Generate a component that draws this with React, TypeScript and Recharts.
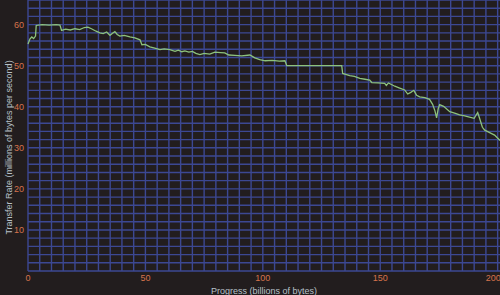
import { LineChart, Line, XAxis, YAxis, CartesianGrid } from 'recharts';

// progress (billions of bytes) vs transfer rate (millions of bytes per second)
const progress = [
  0, 0.8, 1.6, 2.4, 3.2, 3.5, 6, 9, 12, 13.6, 14.3, 16, 18, 20, 22, 24, 25.5, 27, 29, 30.6,
  32, 33.5, 34.9, 36, 37, 38, 39.1, 41, 43.4, 45.5, 47.7, 48.5, 50, 51.9, 54, 56.2, 58, 60.4,
  62.6, 64, 65.5, 66.8, 68.5, 70, 71.5, 73.2, 75, 77.4, 79.6, 82, 83.8, 85.5, 88.1, 91, 94.5,
  96.6, 98.7, 101, 104, 107, 109.4, 110.2, 115, 120, 125, 130, 133.6, 134, 137, 139, 141.3,
  143.5, 145.5, 146.4, 149, 151.9, 152.6, 153.5, 156.2, 158, 160.4, 161.7, 163, 164.3, 165.5,
  166.8, 169, 171, 172.3, 173.3, 174, 174.7, 175.3, 177, 179.6, 182, 183.8, 186, 188, 190,
  191.5, 192.3, 193.5, 194.5, 196.6, 198.7, 201,
];
const rate = [
  55.3, 56.5, 57, 56.6, 57.2, 59.8, 60, 59.9, 60, 59.9, 58.6, 58.9, 58.7, 59, 58.8, 59.3, 59.4, 59, 58.4, 58,
  57.8, 58.2, 57.4, 57.9, 58.3, 57.6, 57.2, 57.4, 57, 56.8, 56.3, 55.1, 55.2, 54.6, 54.3, 53.9, 54.1, 53.9,
  53.5, 53.8, 53.4, 53.6, 53.3, 53.5, 53, 52.7, 53, 52.8, 53.3, 53.2, 53.1, 52.6, 52.5, 52.4, 52.6,
  51.9, 51.5, 51.2, 51.3, 51.1, 51.2, 50, 50, 50, 50, 50, 50, 48.1, 47.6, 47.4, 46.9,
  46.7, 46.5, 45.9, 45.8, 45.7, 45.2, 45.8, 45, 44.6, 44.1, 43.1, 43.5, 44, 42.8,
  42.4, 42.2, 41.8, 40.6, 39, 37.3, 39.6, 40.5, 40.1, 38.8, 38.4, 38, 37.8, 37.5, 37.2,
  38.6, 37.2, 35, 34.3, 33.7, 33.1, 31.8,
];

const xDomain = [0, 201];
const yDomain = [0, 66];
const xTicks = [0, 50, 100, 150, 200];
const yTicks = [10, 20, 30, 40, 50, 60];
const xGrid = Array.from({ length: 41 }, (_, i) => i * 5);
const yGrid = Array.from({ length: 34 }, (_, i) => i * 2);

const data = progress.map((p, i) => ({ p, r: rate[i] }));

const BG = '#221d1e';
const GRID = '#3c4893';
const TICK = '#d6734c';
const TITLE = '#b7c0c8';
const FONT = '"Liberation Sans", Arial, sans-serif';

const YTitle = (props: any) => {
  const vb = props.viewBox || { x: 0, y: 0, width: 28, height: 271 };
  const cx = 9;
  const cy = vb.y + vb.height / 2 + 12;
  return (
    <text
      x={cx}
      y={cy}
      transform={`rotate(-90, ${cx}, ${cy})`}
      textAnchor="middle"
      dominantBaseline="central"
      fill={TITLE}
      fontSize={9}
      fontFamily={FONT}
    >
      Transfer Rate (millions of bytes per second)
    </text>
  );
};

export default function App() {
  return (
    <div style={{ position: 'fixed', left: 0, top: 0, width: 500, height: 295, background: BG }}>
      <LineChart width={500} height={295} data={data} margin={{ top: 0, right: 0, left: 0, bottom: 0 }}>
        <CartesianGrid
          stroke={GRID}
          strokeWidth={1.4}
          verticalCoordinatesGenerator={({ offset }: any) =>
            xGrid.map((v) => offset.left + (offset.width * (v - xDomain[0])) / (xDomain[1] - xDomain[0]))
          }
          horizontalCoordinatesGenerator={({ offset }: any) =>
            yGrid.map((v) => offset.top + offset.height * (1 - (v - yDomain[0]) / (yDomain[1] - yDomain[0])))
          }
        />
        <XAxis
          dataKey="p"
          type="number"
          domain={xDomain}
          ticks={xTicks}
          height={24}
          axisLine={false}
          tickLine={false}
          tickSize={0}
          tickMargin={4}
          tick={{ fill: TICK, fontSize: 9, fontFamily: FONT }}
          label={{ value: 'Progress (billions of bytes)', position: 'insideBottom', offset: 1, fill: TITLE, fontSize: 9, fontFamily: FONT }}
        />
        <YAxis
          type="number"
          domain={yDomain}
          ticks={yTicks}
          width={28}
          axisLine={false}
          tickLine={false}
          tickSize={0}
          tickMargin={4}
          tick={{ fill: TICK, fontSize: 9, fontFamily: FONT }}
          label={<YTitle />}
        />
        <Line
          type="linear"
          dataKey="r"
          stroke="#8dc27c"
          strokeWidth={1.3}
          dot={false}
          isAnimationActive={false}
        />
      </LineChart>
    </div>
  );
}
